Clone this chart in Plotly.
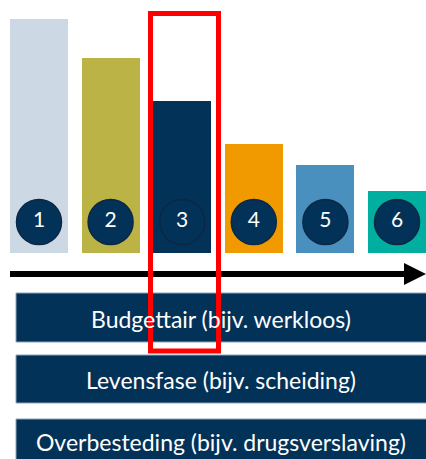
import plotly.graph_objects as go

W, H = 426, 459

# ---- data ----
stages = [1, 2, 3, 4, 5, 6]
stage_labels = ["1", "2", "3", "4", "5", "6"]
bar_values = [234, 195, 152, 109, 88, 62]
bar_colors = ["#CCD9E5", "#BBB345", "#033259", "#F09A00", "#4A90BE", "#00AFA0"]
badge_level = [31, 31, 31, 31, 31, 31]
causes = ["Budgettair (bijv. werkloos)",
          "Levensfase (bijv. scheiding)",
          "Overbesteding (bijv. drugsverslaving)"]

NAVY = "#033259"
FONT = "Lato, 'Open Sans', sans-serif"

def xp(px):
    return px / W

def yp(py):
    return 1 - py / H

fig = go.Figure()

fig.add_trace(go.Bar(
    x=stages, y=bar_values, marker=dict(color=bar_colors, line=dict(width=0)),
    width=0.81, hoverinfo="skip", showlegend=False,
))

fig.add_trace(go.Scatter(
    x=stages, y=badge_level, mode="markers+text", text=stage_labels,
    textposition="middle center",
    textfont=dict(family=FONT, size=21, color="white"),
    marker=dict(size=45, color=NAVY, line=dict(color="#0B2743", width=1.5)),
    hoverinfo="skip", showlegend=False,
))

shapes = []
# arrow
shapes.append(dict(type="line", xref="paper", yref="paper",
                   x0=xp(10), x1=xp(408), y0=yp(274), y1=yp(274),
                   line=dict(color="black", width=6)))
shapes.append(dict(type="path", xref="paper", yref="paper",
                   path=f"M {xp(404)},{yp(263)} L {xp(426)},{yp(274)} L {xp(404)},{yp(285)} Z",
                   fillcolor="black", line=dict(width=0)))

# cause boxes
box_tops = [293, 355, 419]
box_bottoms = [342, 403, 470]
text_centers = [319, 380, 442]
annotations = []
for label, t, b, c in zip(causes, box_tops, box_bottoms, text_centers):
    shapes.append(dict(type="rect", xref="paper", yref="paper",
                       x0=xp(16), x1=xp(432), y0=yp(b), y1=yp(t),
                       fillcolor=NAVY, line=dict(color="#8FA3B8", width=1)))
    annotations.append(dict(xref="paper", yref="paper", x=xp(221), y=yp(c),
                            text=label, showarrow=False,
                            xanchor="center", yanchor="middle",
                            font=dict(family=FONT, size=23, color="white")))

# red highlight frame
shapes.append(dict(type="rect", xref="paper", yref="paper",
                   x0=xp(150.5), x1=xp(218.5), y0=yp(351), y1=yp(13.5),
                   fillcolor="rgba(0,0,0,0)", line=dict(color="#FF0000", width=5)))

x0_stage = 1 - 39 / 71.6
x1_stage = 1 + (W - 39) / 71.6

fig.update_layout(
    width=W, height=H,
    margin=dict(l=0, r=0, t=0, b=0),
    paper_bgcolor="white", plot_bgcolor="white",
    xaxis=dict(range=[x0_stage, x1_stage], visible=False, fixedrange=True),
    yaxis=dict(range=[0, 253], domain=[yp(253), 1], visible=False, fixedrange=True),
    shapes=shapes, annotations=annotations,
    bargap=0,
)

fig.write_html("out.html", config={"displayModeBar": False},
               post_script="document.body.style.margin='0';document.body.style.overflow='hidden';")
